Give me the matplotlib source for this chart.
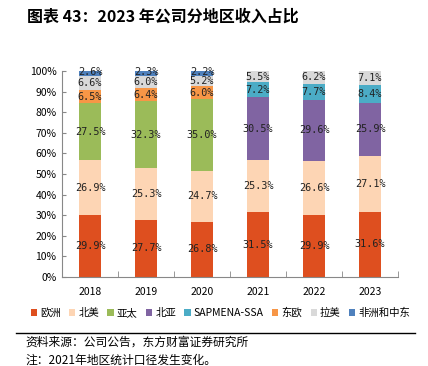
import matplotlib
matplotlib.use("Agg")
import matplotlib.pyplot as plt
import numpy as np
from matplotlib.ticker import FuncFormatter

plt.rcParams['font.family'] = ['Noto Sans CJK SC', 'DejaVu Sans']

years = ['2018', '2019', '2020', '2021', '2022', '2023']
series = ['欧洲', '北美', '亚太', '北亚', 'SAPMENA-SSA', '东欧', '拉美', '非洲和中东']
europe = [29.9, 27.7, 26.8, 31.5, 29.9, 31.6]
north_america = [26.9, 25.3, 24.7, 25.3, 26.6, 27.1]
asia_pacific = [27.5, 32.3, 35.0, 0, 0, 0]
north_asia = [0, 0, 0, 30.5, 29.6, 25.9]
sapmena = [0, 0, 0, 7.2, 7.7, 8.4]
east_europe = [6.5, 6.4, 6.0, 0, 0, 0]
latam = [6.6, 6.0, 5.2, 5.5, 6.2, 7.1]
africa_me = [2.6, 2.3, 2.2, 0, 0, 0]
colors = ['#DE4F1F', '#FDD5B4', '#9BBB59', '#8064A2', '#4BACC6', '#F79646', '#D9D9D9', '#4F81BD']

data = [europe, north_america, asia_pacific, north_asia, sapmena, east_europe, latam, africa_me]

fig = plt.figure(figsize=(4.28, 3.66), dpi=100)
ax = fig.add_axes([62/428, 1-277/366, (398-62)/428, (277-71)/366])

x = np.arange(len(years))
bottom = np.zeros(len(years))
for si, (name, vals, c) in enumerate(zip(series, data, colors)):
    v = np.array(vals, dtype=float)
    ax.bar(x, v, 0.39, bottom=bottom, color=c, label=name)
    nudge = 0.8 if si == len(series) - 1 else 0.0
    for xi, (vi, bi) in enumerate(zip(v, bottom)):
        if vi > 0:
            ax.text(xi, bi + vi/2 + nudge, f'{vi:.1f}%', ha='center', va='center', fontsize=7.3,
                    family=['DejaVu Sans Mono'], color='#222222')
    bottom += v

ax.set_xlim(-0.5, len(years)-0.5)
ax.set_ylim(0, 100)
ax.set_yticks(np.arange(0, 101, 10))
ax.yaxis.set_major_formatter(FuncFormatter(lambda v, p: f'{int(v)}%'))
ax.set_xticks(x)
ax.set_xticklabels(years)
ax.set_xticks(np.arange(-0.5, len(years), 1), minor=True)
ax.tick_params(axis='x', which='major', length=0, pad=7, labelsize=7.5)
ax.tick_params(axis='x', which='minor', length=4, direction='in', color='#888888')
ax.tick_params(axis='y', length=3, direction='in', labelsize=7.5, color='#888888', pad=4)
for s in ['top', 'right']:
    ax.spines[s].set_visible(False)
for s in ['left', 'bottom']:
    ax.spines[s].set_color('#888888')

handles, labels = ax.get_legend_handles_labels()
fig.legend(handles, labels, loc='center', bbox_to_anchor=(0.515, 1-313/366), ncol=8,
           frameon=False, fontsize=7.5, handlelength=0.6, handleheight=0.6,
           handletextpad=0.3, columnspacing=0.8)

fig.text(27/428, 1-17/366, '图表 43：2023 年公司分地区收入占比', fontsize=11.5, fontweight='bold', va='center', ha='left')
fig.add_artist(plt.Line2D([16/428, 415/428], [1-333/366, 1-333/366], color='black', lw=1))
fig.text(25/428, 1-342/366, '资料来源：公司公告，东方财富证券研究所', fontsize=8.5, va='center', ha='left')
fig.text(25/428, 1-360/366, '注：2021年地区统计口径发生变化。', fontsize=8.5, va='center', ha='left')

fig.savefig('out.png', dpi=100)
